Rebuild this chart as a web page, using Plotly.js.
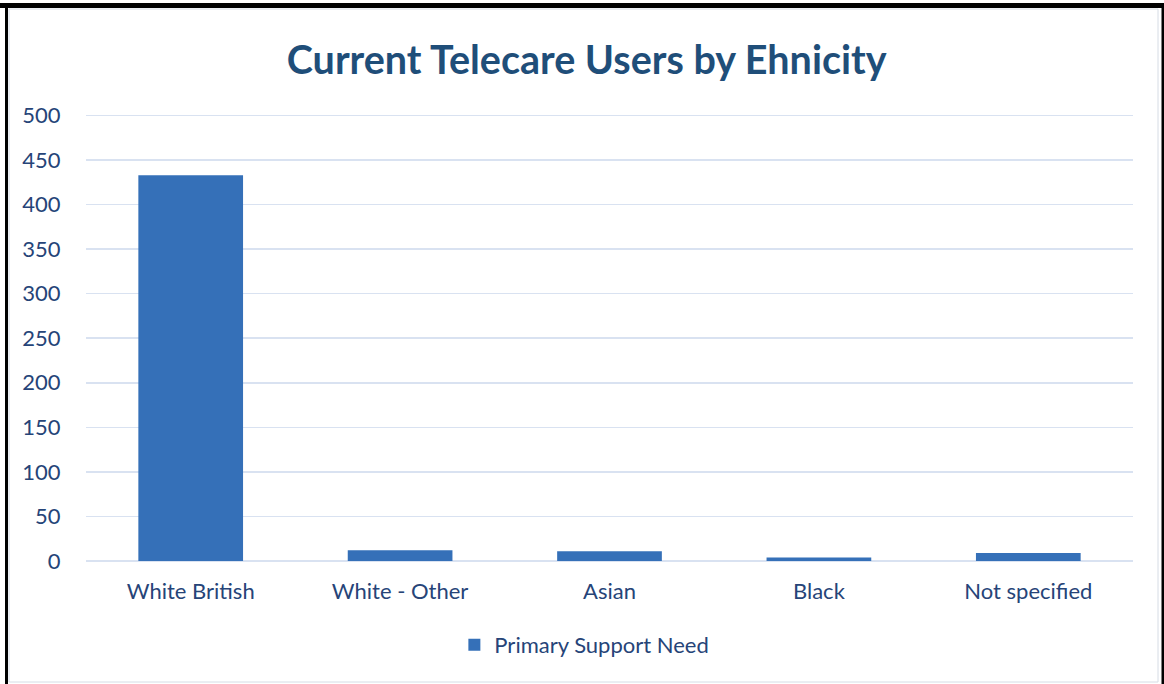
<!DOCTYPE html>
<html>
<head>
<meta charset="utf-8">
<script src="https://cdn.plot.ly/plotly-3.0.1.min.js"></script>
<style>html,body{margin:0;padding:0;background:#fff;}#chart{width:1164px;height:684px;}</style>
</head>
<body>
<div id="chart"></div>
<script>
const categories = ["White British", "White - Other", "Asian", "Black", "Not specified"];
const values = [433, 12, 11, 4, 9];
const seriesName = "Primary Support Need";
const yTicks = [0, 50, 100, 150, 200, 250, 300, 350, 400, 450, 500];

const W = 1164, H = 684;
const mL = 86, mR = 31, mT = 111, mB = 123;
const pw = W - mL - mR, ph = H - mT - mB;
const px = v => (v - mL) / pw;
const py = v => (H - mB - v) / ph;

const shapes = [
  {type:'rect', xref:'paper', yref:'paper', x0:px(9), x1:px(1158), y0:py(682), y1:py(9), line:{color:'#D6DCE5', width:1}, fillcolor:'rgba(0,0,0,0)', layer:'below'},
  {type:'rect', xref:'paper', yref:'paper', x0:px(0), x1:px(1164), y0:py(8), y1:py(3), line:{width:0}, fillcolor:'#000'},
  {type:'rect', xref:'paper', yref:'paper', x0:px(5), x1:px(8), y0:py(684), y1:py(8), line:{width:0}, fillcolor:'#000'},
  {type:'rect', xref:'paper', yref:'paper', x0:px(1161.5), x1:px(1164), y0:py(684), y1:py(3), line:{width:0}, fillcolor:'#000'}
];

const trace = {
  type: 'bar',
  x: categories,
  y: values,
  name: seriesName,
  marker: {color: '#3570B8'},
  showlegend: true,
  hoverinfo: 'x+y'
};

const fam = 'Lato, "Liberation Sans", sans-serif';
const font = {family: fam, size: 22, color: '#264478'};

const layout = {
  width: W, height: H,
  margin: {l: mL, r: mR, t: mT, b: mB, pad: 0},
  paper_bgcolor: '#fff',
  plot_bgcolor: '#fff',
  font: font,
  title: {text: 'Current Telecare Users by Ehnicity', font: {family: fam, size: 39.5, color: '#1F4E79', weight: 'bold'}, x: 0.504, xanchor: 'center', y: 1 - 60/H, yanchor: 'middle'},
  bargap: 0.5,
  xaxis: {
    type: 'category',
    showgrid: false,
    showline: false,
    zeroline: false,
    ticks: 'outside', ticklen: 11, tickcolor: 'rgba(0,0,0,0)',
    tickfont: font
  },
  yaxis: {
    range: [0, 505],
    tickvals: yTicks,
    ticktext: yTicks.map(String),
    showgrid: true,
    gridcolor: '#D9E2F1',
    gridwidth: 1.5,
    zeroline: true,
    zerolinecolor: '#D9E2F1',
    zerolinewidth: 1.5,
    showline: false,
    ticks: 'outside', ticklen: 20, tickcolor: 'rgba(0,0,0,0)',
    tickfont: font
  },
  legend: {orientation: 'h', x: 0.476, xanchor: 'center', y: py(645), yanchor: 'middle', font: font, bgcolor: 'rgba(0,0,0,0)'},
  shapes: shapes
};

Plotly.newPlot('chart', [trace], layout, {displayModeBar: false, staticPlot: true});
</script>
</body>
</html>
